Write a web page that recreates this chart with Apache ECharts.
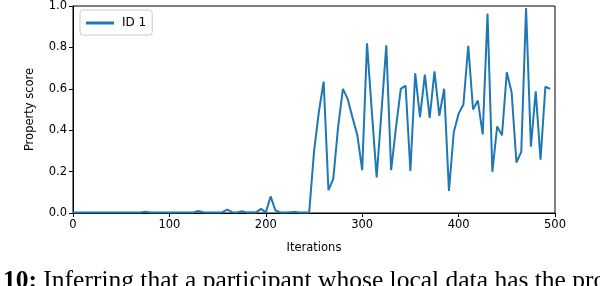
<!DOCTYPE html>
<html>
<head>
<meta charset="utf-8">
<script src="https://cdn.jsdelivr.net/npm/echarts@6/dist/echarts.min.js"></script>
<style>html,body{margin:0;padding:0;background:#fff;}#c{width:600px;height:286px;}</style>
</head>
<body>
<div id="c"></div>
<script>
var iterations = [0,5,10,15,20,25,30,35,40,45,50,55,60,65,70,75,80,85,90,95,
  100,105,110,115,120,125,130,135,140,145,150,155,160,165,170,175,180,185,190,195,
  200,205,210,215,220,225,230,235,240,245,250,255,260,265,270,275,280,285,290,295,
  300,305,310,315,320,325,330,335,340,345,350,355,360,365,370,375,380,385,390,395,
  400,405,410,415,420,425,430,435,440,445,450,455,460,465,470,475,480,485,490,495];
var scores = [0.003,0.003,0.003,0.003,0.003,0.003,0.003,0.003,0.003,0.002,
  0.003,0.003,0.002,0.003,0.003,0.006,0.003,0.002,0.003,0.003,
  0.002,0.003,0.003,0.002,0.003,0.003,0.010,0.004,0.002,0.003,
  0.003,0.004,0.016,0.004,0.003,0.008,0.003,0.004,0.003,0.020,
  0.002,0.080,0.012,0.003,0.003,0.004,0.005,0.003,0.002,0.002,
  0.295,0.487,0.635,0.110,0.165,0.415,0.600,0.550,0.460,0.375,
  0.207,0.820,0.490,0.172,0.490,0.810,0.207,0.410,0.600,0.615,
  0.203,0.675,0.463,0.668,0.460,0.684,0.470,0.600,0.107,0.390,
  0.480,0.524,0.808,0.500,0.543,0.380,0.963,0.199,0.418,0.375,
  0.680,0.583,0.244,0.295,0.990,0.320,0.588,0.258,0.610,0.600];
var seriesName = 'ID 1';
var xTitle = 'Iterations';
var yTitle = 'Property score';

var chart = echarts.init(document.getElementById('c'), null, {renderer: 'canvas'});
var font = 'DejaVu Sans';
chart.setOption({
  animation: false,
  grid: {left: 73, right: 45, top: 5, bottom: 73, show: true, borderColor: '#000', borderWidth: 1, backgroundColor: 'transparent'},
  legend: {
    show: true, left: 80, top: 10, orient: 'vertical',
    padding: [7, 6, 6, 6],
    itemWidth: 28, itemHeight: 3, itemGap: 4,
    borderColor: '#cccccc', borderWidth: 1, borderRadius: 3,
    backgroundColor: 'rgba(255,255,255,0.8)',
    textStyle: {fontFamily: font, fontSize: 12, color: '#000', padding: [0, 0, 0, 3]},
    icon: 'rect',
    data: [seriesName]
  },
  xAxis: {
    type: 'value', min: 0, max: 500, interval: 100,
    name: xTitle, nameLocation: 'middle', nameGap: 29,
    nameTextStyle: {fontFamily: font, fontSize: 11.5, color: '#000'},
    axisLine: {show: true, lineStyle: {color: '#000', width: 1}},
    axisTick: {show: true, inside: false, length: 4, lineStyle: {color: '#000'}},
    axisLabel: {fontFamily: font, fontSize: 11.5, color: '#000', margin: 6},
    splitLine: {show: false}
  },
  yAxis: {
    type: 'value', min: 0, max: 1, interval: 0.2,
    name: yTitle, nameLocation: 'middle', nameGap: 37,
    nameTextStyle: {fontFamily: font, fontSize: 11.5, color: '#000'},
    axisLine: {show: true, lineStyle: {color: '#000', width: 1}},
    axisTick: {show: true, inside: false, length: 4, lineStyle: {color: '#000'}},
    axisLabel: {fontFamily: font, fontSize: 11.5, color: '#000', margin: 6,
      formatter: function(v){ return v.toFixed(1); }},
    splitLine: {show: false}
  },
  series: [{
    name: seriesName, type: 'line', showSymbol: false, symbol: 'none',
    data: iterations.map(function(x, i){ return [x, scores[i]]; }),
    lineStyle: {color: '#1f77b4', width: 2},
    itemStyle: {color: '#1f77b4'}
  }],
  graphic: [{
    type: 'text', left: 3, top: 268,
    style: {
      text: '{b|10:} Inferring that a participant whose local data has the prop',
      fontFamily: 'Liberation Serif', fontSize: 25.5, fill: '#000',
      rich: {b: {fontFamily: 'Liberation Serif', fontSize: 25.5, fontWeight: 'bold', fill: '#000'}}
    }
  }]
});
</script>
</body>
</html>
